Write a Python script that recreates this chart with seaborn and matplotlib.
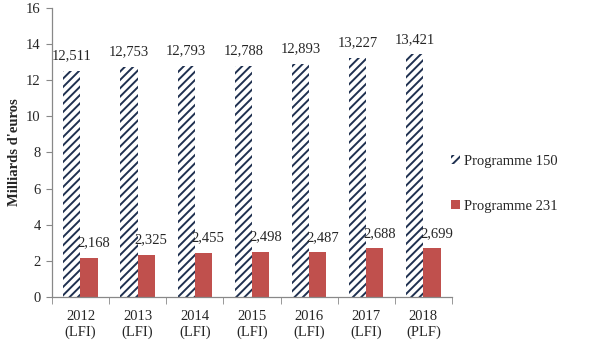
import matplotlib
matplotlib.use("Agg")
import matplotlib.pyplot as plt
import seaborn as sns
import pandas as pd

categories = ["2012\n(LFI)", "2013\n(LFI)", "2014\n(LFI)", "2015\n(LFI)", "2016\n(LFI)", "2017\n(LFI)", "2018\n(PLF)"]
prog150 = [12.511, 12.753, 12.793, 12.788, 12.893, 13.227, 13.421]
prog231 = [2.168, 2.325, 2.455, 2.498, 2.487, 2.688, 2.699]
series_names = ["Programme 150", "Programme 231"]

df = pd.DataFrame({
    "cat": categories * 2,
    "val": prog150 + prog231,
    "serie": [series_names[0]] * len(categories) + [series_names[1]] * len(categories),
})

sns.set_style("white")
plt.rcParams["font.family"] = ["Liberation Serif", "DejaVu Serif"]
plt.rcParams["hatch.color"] = "#1F3050"
plt.rcParams["hatch.linewidth"] = 1.4

fig = plt.figure(figsize=(5.9, 3.57), dpi=100)
ax = fig.add_axes([0.088, 0.168, 0.678, 0.81])

sns.barplot(data=df, x="cat", y="val", hue="serie", order=categories,
            hue_order=series_names, palette=["white", "#C0504D"],
            width=0.6, gap=0, saturation=1, ax=ax, legend=True, errorbar=None)

conts = ax.containers
for p in conts[0]:
    p.set_hatch("////")
    p.set_edgecolor("#1F3050")
    p.set_linewidth(0)
for p in conts[1]:
    p.set_edgecolor("#C0504D")
    p.set_linewidth(0)

lab1 = ax.bar_label(conts[0], labels=[f"{v:.3f}".replace(".", ",") for v in prog150],
                    padding=6, fontsize=10.5)
lab2 = ax.bar_label(conts[1], labels=[f"{v:.3f}".replace(".", ",") for v in prog231],
                    padding=6, fontsize=10.5)
for t in lab2:
    t.xyann = (3.5, 6)

ax.set_ylim(0, 16)
ax.set_yticks(range(0, 17, 2))
ax.set_xlim(-0.5, len(categories) - 0.5)
ax.set_xlabel("")
ax.set_ylabel("Milliards d'euros", fontsize=10.5, fontweight="bold")
ax.tick_params(axis="both", labelsize=10.5)
ax.tick_params(axis="y", which="both", left=True, length=4, color="#888888", pad=4)

# x ticks at category boundaries
ax.set_xticks(range(len(categories)))
ax.set_xticklabels(categories)
ax.tick_params(axis="x", which="major", bottom=False, pad=6)
ax.set_xticks([i - 0.5 for i in range(len(categories) + 1)], minor=True)
ax.tick_params(axis="x", which="minor", bottom=True, length=5, color="#888888")

for s in ["top", "right"]:
    ax.spines[s].set_visible(False)
for s in ["left", "bottom"]:
    ax.spines[s].set_color("#888888")
    ax.spines[s].set_linewidth(0.9)

leg = ax.legend(loc="center left", bbox_to_anchor=(0.965, 0.392), frameon=False,
                fontsize=10.5, labelspacing=2.2, handlelength=0.6, handleheight=0.6,
                handletextpad=0.3)
for h in leg.legend_handles:
    h.set_linewidth(0)
leg.legend_handles[0].set_hatch("////")
leg.legend_handles[0].set_edgecolor("#1F3050")

fig.savefig("out.png", dpi=100)
